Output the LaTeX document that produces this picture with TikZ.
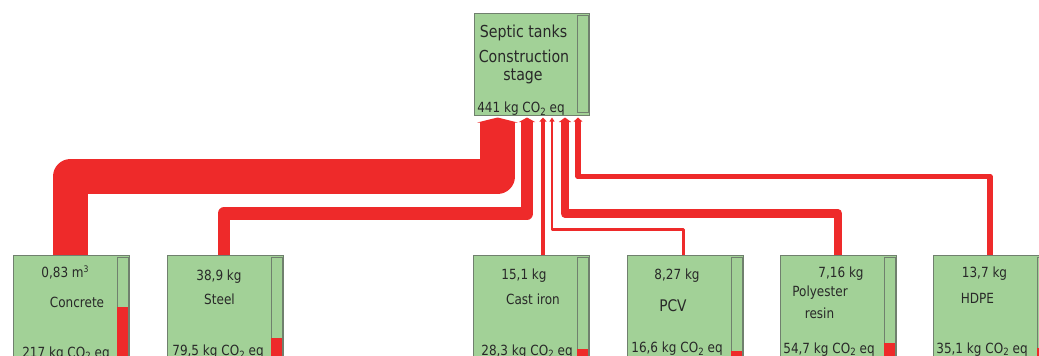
\documentclass[tikz,border=0pt]{standalone}
\usepackage{fontspec}
\setmainfont[FakeStretch=0.86]{DejaVu Sans}
\usetikzlibrary{arrows.meta}
\definecolor{boxgreen}{RGB}{162,209,151}
\definecolor{boxline}{RGB}{112,128,110}
\definecolor{flowred}{RGB}{238,42,42}
\definecolor{txt}{RGB}{40,40,40}
\newcommand{\cotwo}{CO\raisebox{-2.5pt}{\fontsize{10}{10}\selectfont 2}}
\newcommand{\cubm}{m\raisebox{4.5pt}{\fontsize{9}{9}\selectfont 3}}
\begin{document}
\begin{tikzpicture}[x=1pt,y=-1pt,
  box/.style={draw=boxline, fill=boxgreen, line width=0.9pt, inner sep=0pt, outer sep=0pt,
    minimum width=116pt, minimum height=130pt, anchor=north west},
  topbox/.style={box, minimum width=115pt, minimum height=102pt},
  bar/.style={draw=boxline, fill=boxgreen, line width=0.8pt, inner sep=0pt, outer sep=0pt,
    minimum width=11pt, anchor=north east},
  lbl/.style={text=txt, inner sep=0pt, anchor=base, font=\fontsize{14}{14}\selectfont},
  big/.style={lbl, font=\fontsize{16.5}{16.5}\selectfont},
  flow/.style={draw=flowred, line join=round, line cap=butt}]
\useasboundingbox (0,0) rectangle (1039,356);
\clip (0,0) rectangle (1039,356);
\fill[white] (0,0) rectangle (1039,356);

% boxes
\node[topbox] (top) at (474,13) {};
\node[box] (concrete) at (13,255) {};
\node[box] (steel) at (167,255) {};
\node[box] (castiron) at (473,255) {};
\node[box] (pcv) at (627,255) {};
\node[box] (poly) at (780,255) {};
\node[box] (hdpe) at (933,255) {};

% level bars
\node[bar, minimum height=97pt] (topbar) at ([xshift=-1pt,yshift=-2.5pt]top.north east) {};
\foreach \b/\lev in {concrete/307, steel/338, castiron/349, pcv/351, poly/343, hdpe/348}{
  \node[bar, minimum height=124pt] (\b bar) at ([xshift=-1pt,yshift=-2.5pt]\b.north east) {};
  \fill[flowred] ([xshift=0.4pt]\b bar.west |- 0,\lev) rectangle ([xshift=-0.4pt]\b bar.south east);
}

% flows
\coordinate (yA) at (0,176.5);
\coordinate (yB) at (0,213.5);
\coordinate (yC) at (0,229.5);
\coordinate (c0) at ([xshift=-0.5pt]concrete.north);
\coordinate (c1) at ([xshift=-34pt,yshift=-2.5pt]top.south);
\coordinate (s0) at ([xshift=-1pt]steel.north);
\coordinate (s1) at ([xshift=-4.5pt,yshift=-2.5pt]top.south);
\coordinate (i0) at ([xshift=12pt]castiron.north);
\coordinate (i1) at ([xshift=11.5pt,yshift=-2.5pt]top.south);
\coordinate (p0) at ([xshift=-1.5pt]pcv.north);
\coordinate (p1) at ([xshift=20.5pt,yshift=-2.5pt]top.south);
\coordinate (r0) at ([xshift=0pt]poly.north);
\coordinate (r1) at ([xshift=33.5pt,yshift=-2.5pt]top.south);
\coordinate (h0) at ([xshift=-1pt]hdpe.north);
\coordinate (h1) at ([xshift=46.5pt,yshift=-2.5pt]top.south);

\draw[flow, line width=35pt, -{Triangle[width=40pt,length=5pt]}] (c0) -- (c0 |- yA) -- (c1 |- yA) -- (c1);
\draw[flow, line width=12.7pt, -{Triangle[width=16pt,length=4.5pt]}] (s0) -- (s0 |- yB) -- (s1 |- yB) -- (s1);
\draw[flow, line width=4.5pt, -{Triangle[width=7pt,length=4pt]}] (i0) -- (i1);
\draw[flow, line width=2.5pt, -{Triangle[width=5pt,length=4pt]}] (p0) -- (p0 |- yC) -- (p1 |- yC) -- (p1);
\draw[flow, line width=8.8pt, -{Triangle[width=12pt,length=4.5pt]}] (r0) -- (r0 |- yB) -- (r1 |- yB) -- (r1);
\draw[flow, line width=5.6pt, -{Triangle[width=8.5pt,length=4pt]}] (h0) -- (h0 |- yA) -- (h1 |- yA) -- (h1);

% texts
\node[big] (tt1) at (523.5,37) {Septic tanks};
\node[big] (tt2) at (524,62.5) {Construction};
\node[big] (tt3) at (523,80) {stage};
\node[lbl] (tt4) at (521,112.5) {441 kg \cotwo{} eq};

\node[lbl] (ca) at (65,277) {0,83 \cubm};
\node[lbl] (cb) at (77,307) {Concrete};
\node[lbl] (cc) at (66,357) {217 kg \cotwo{} eq};

\node[lbl] (sa) at (219,280.5) {38,9 kg};
\node[lbl] (sb) at (219.5,304) {Steel};
\node[lbl] (sc) at (218,355.5) {79,5 kg \cotwo{} eq};

\node[lbl] (ia) at (524,279) {15,1 kg};
\node[lbl] (ib) at (533,304) {Cast iron};
\node[lbl] (ic) at (527,355) {28,3 kg \cotwo{} eq};

\node[lbl] (pa) at (677,279) {8,27 kg};
\node[lbl, font=\fontsize{16}{16}\selectfont] (pb) at (673,311.7) {PCV};
\node[lbl] (pc) at (677,352.5) {16,6 kg \cotwo{} eq};

\node[lbl] (ra) at (841,277) {7,16 kg};
\node[lbl] (rb) at (820,296.7) {Polyester};
\node[lbl] (rc) at (819.5,318) {resin};
\node[lbl] (rd) at (829,353) {54,7 kg \cotwo{} eq};

\node[lbl] (ha) at (984.5,277) {13,7 kg};
\node[lbl] (hb) at (977.5,303) {HDPE};
\node[lbl] (hc) at (982,353) {35,1 kg \cotwo{} eq};
\end{tikzpicture}
\end{document}
